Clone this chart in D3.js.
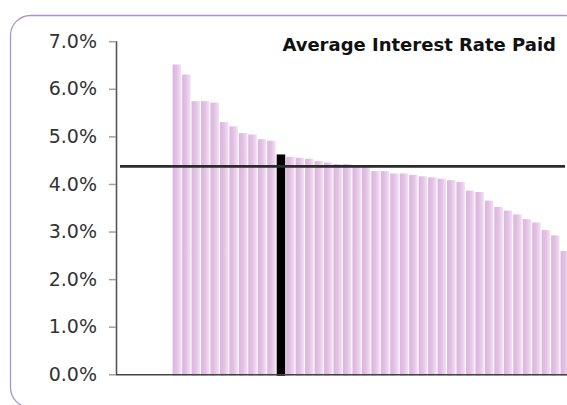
<!DOCTYPE html>
<html>
<head>
<meta charset="utf-8">
<script src="https://cdn.jsdelivr.net/npm/d3@7/dist/d3.min.js"></script>
<style>
  html, body { margin: 0; padding: 0; background: #fff; }
  svg { display: block; }
</style>
</head>
<body>
<svg id="chart" width="567" height="405"></svg>
<script>
// ---- data ----
const chartTitle = "Average Interest Rate Paid";
const rates = [6.51, 6.30, 5.74, 5.74, 5.71, 5.30, 5.21, 5.07, 5.04, 4.94, 4.91,
               4.62, 4.57, 4.55, 4.53, 4.48, 4.45, 4.42, 4.42, 4.39, 4.37,
               4.27, 4.27, 4.22, 4.22, 4.19, 4.16, 4.14, 4.11, 4.08, 4.04,
               3.86, 3.83, 3.65, 3.52, 3.44, 3.36, 3.26, 3.19, 3.03, 2.92, 2.59];
const highlightIndex = 11;
const averageRate = 4.37;
const yTicks = [0, 1, 2, 3, 4, 5, 6, 7];

// ---- layout ----
const svg = d3.select("#chart");
const axisX = 116, y0 = 374.3, yTop = 41.2;
const firstBar = 172.6, step = 9.463;

const y = d3.scaleLinear().domain([0, 7]).range([y0, yTop]);
const x = d3.scaleBand()
  .domain(rates.map((d, i) => i))
  .range([firstBar, firstBar + rates.length * step - step * 0.1])
  .paddingInner(0.1).paddingOuter(0);

// border
svg.append("rect")
  .attr("x", 10.5).attr("y", 15.5)
  .attr("width", 575).attr("height", 392)
  .attr("rx", 20).attr("ry", 20)
  .attr("fill", "none").attr("stroke", "#a994c9").attr("stroke-width", 1.3);

// gradient
const defs = svg.append("defs");
const grad = defs.append("linearGradient").attr("id", "barGrad")
  .attr("x1", "0%").attr("x2", "100%").attr("y1", "0%").attr("y2", "0%");
grad.append("stop").attr("offset", "0%").attr("stop-color", "#dcb4de");
grad.append("stop").attr("offset", "45%").attr("stop-color", "#e2c0e4");
grad.append("stop").attr("offset", "100%").attr("stop-color", "#f2e2f3");

// bars
svg.append("g").selectAll("rect")
  .data(rates)
  .join("rect")
  .attr("x", (d, i) => x(i))
  .attr("y", d => y(d))
  .attr("width", x.bandwidth())
  .attr("height", d => y(0) - y(d) + 1.5)
  .attr("fill", (d, i) => i === highlightIndex ? "#000" : "url(#barGrad)");

// y axis
const yAxis = d3.axisLeft(y)
  .tickValues(yTicks)
  .tickFormat(d => d3.format(".1f")(d) + "%")
  .tickSize(7)
  .tickPadding(12);
const gy = svg.append("g")
  .attr("transform", `translate(${axisX},0)`)
  .call(yAxis);
gy.select(".domain").attr("stroke", "#555").attr("stroke-width", 1.6)
  .attr("d", `M0.5,${yTop}V${y0}`);
gy.selectAll(".tick line").attr("stroke", "#a0a0a0").attr("stroke-width", 1.5);
gy.selectAll(".tick text")
  .attr("fill", "#333")
  .style("font-family", "'DejaVu Sans', Verdana, sans-serif")
  .style("font-size", "19px");

// x axis baseline
svg.append("line")
  .attr("x1", axisX).attr("x2", 567)
  .attr("y1", y0 + 0.5).attr("y2", y0 + 0.5)
  .attr("stroke", "#444").attr("stroke-width", 1.4);

// average line
svg.append("line")
  .attr("x1", 120).attr("x2", 565)
  .attr("y1", y(averageRate)).attr("y2", y(averageRate))
  .attr("stroke", "#2b2b2b").attr("stroke-width", 2.6);

// title
svg.append("text")
  .attr("x", 556).attr("y", 51)
  .attr("text-anchor", "end")
  .style("font-family", "'DejaVu Sans', Verdana, sans-serif")
  .style("font-weight", "bold")
  .style("font-size", "18px")
  .attr("fill", "#111")
  .text(chartTitle);
</script>
</body>
</html>
